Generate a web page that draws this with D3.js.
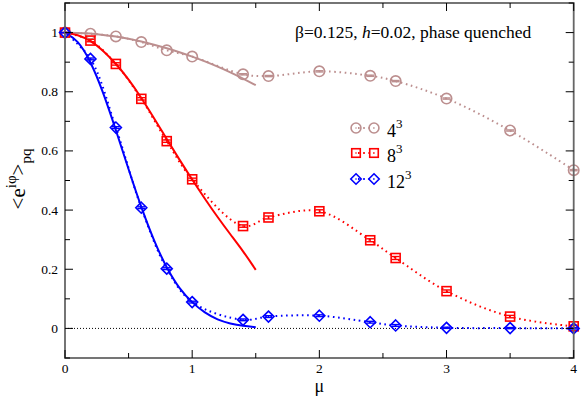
<!DOCTYPE html>
<html><head><meta charset="utf-8">
<script src="https://cdn.jsdelivr.net/npm/d3@7"></script>
<style>body{margin:0;background:#fff}svg{display:block}</style>
</head><body><svg id="c" width="581" height="397"></svg>
<script>
const mu = [0, 0.2, 0.4, 0.6, 0.8, 1.0, 1.4, 1.6, 2.0, 2.4, 2.6, 3.0, 3.5, 4.0];
const v4  = [1.0, 0.996, 0.987, 0.968, 0.940, 0.919, 0.859, 0.853, 0.869, 0.854, 0.836, 0.777, 0.669, 0.535];
const v8  = [1.0, 0.973, 0.894, 0.776, 0.633, 0.504, 0.346, 0.375, 0.396, 0.298, 0.238, 0.126, 0.040, 0.007];
const v12 = [1.0, 0.911, 0.679, 0.408, 0.202, 0.089, 0.029, 0.040, 0.043, 0.021, 0.010, 0.002, 0.001, 0.0];
const e4  = [0, 0, 0, 0, 0, 0, 0.002, 0.002, 0.002, 0.002, 0.002, 0.002, 0.002, 0.002];
const e8  = [0, 0.004, 0.004, 0.004, 0.004, 0.004, 0.004, 0.005, 0.005, 0.005, 0.005, 0.004, 0.004, 0.004];
const e12 = [0, 0.003, 0.003, 0.003, 0.003, 0.003, 0.003, 0.003, 0.003, 0.003, 0.003, 0.002, 0.002, 0.002];
const fitMu = [0, 0.1, 0.2, 0.3, 0.4, 0.5, 0.6, 0.7, 0.8, 0.9, 1.0, 1.1, 1.2, 1.3, 1.4, 1.5];
const fit4  = [1.0, 0.999, 0.997, 0.992, 0.987, 0.979, 0.970, 0.959, 0.947, 0.934, 0.919, 0.903, 0.885, 0.866, 0.845, 0.822];
const fit8  = [1.0, 0.993, 0.973, 0.940, 0.895, 0.843, 0.780, 0.711, 0.640, 0.570, 0.503, 0.438, 0.376, 0.318, 0.262, 0.198];
const fit12 = [1.0, 0.975, 0.905, 0.799, 0.671, 0.537, 0.408, 0.295, 0.203, 0.133, 0.087, 0.052, 0.029, 0.016, 0.008, 0.004];
const seriesNames = ["4", "8", "12"];
const colors = ["#bc8f8f", "#ff0000", "#0000ff"];
const xTicks = [0, 1, 2, 3, 4];
const yTicks = [0, 0.2, 0.4, 0.6, 0.8, 1];

const FONT = "Liberation Serif";
const svg = d3.select("#c");
const L = 65, R = 573.7, T = 3, B = 358;
const x = d3.scaleLinear().domain([0, 4]).range([L, R]);
const y = d3.scaleLinear().domain([-0.1, 1.1]).range([B, T]);
const txt = (sel) => sel.append("text").style("font-family", FONT).attr("fill", "#000");

// zero line
svg.append("line").attr("x1", x(0)).attr("x2", x(4)).attr("y1", y(0)).attr("y2", y(0))
  .attr("stroke", "#000").attr("stroke-width", 1).attr("stroke-dasharray", "1 2");

const all = [
  {v: v4, e: e4, fit: fit4, c: colors[0], shape: "circle"},
  {v: v8, e: e8, fit: fit8, c: colors[1], shape: "square"},
  {v: v12, e: e12, fit: fit12, c: colors[2], shape: "diamond"}
];

const dotted = d3.line().x(d => x(d[0])).y(d => y(d[1])).curve(d3.curveCatmullRom.alpha(0.5));
const solid = d3.line().x(d => x(d[0])).y(d => y(d[1])).curve(d3.curveBasis);

all.forEach(s => {
  svg.append("path").attr("d", dotted(mu.map((m, i) => [m, s.v[i]])))
    .attr("fill", "none").attr("stroke", s.c).attr("stroke-width", 2).attr("stroke-dasharray", "1.6 3.6").attr("stroke-linecap", "butt");
  svg.append("path").attr("d", solid(fitMu.map((m, i) => [m, s.fit[i]])))
    .attr("fill", "none").attr("stroke", s.c).attr("stroke-width", 2);
});

function marker(g, shape, cx, cy, c, sz) {
  if (shape === "circle") g.append("circle").attr("cx", cx).attr("cy", cy).attr("r", sz * 0.52).attr("fill", "none").attr("stroke", c).attr("stroke-width", 1.6);
  else if (shape === "square") g.append("rect").attr("x", cx - sz * 0.45).attr("y", cy - sz * 0.45).attr("width", sz * 0.9).attr("height", sz * 0.9).attr("fill", "none").attr("stroke", c).attr("stroke-width", 1.6);
  else g.append("path").attr("d", `M${cx},${cy - sz * 0.55}L${cx + sz * 0.55},${cy}L${cx},${cy + sz * 0.55}L${cx - sz * 0.55},${cy}Z`).attr("fill", "none").attr("stroke", c).attr("stroke-width", 1.6);
}

all.forEach(s => {
  const g = svg.append("g");
  mu.forEach((m, i) => {
    const cx = x(m), cy = y(s.v[i]);
    marker(g, s.shape, cx, cy, s.c, 10);
    if (s.e[i] > 0 || i === 0) {
      const yt = y(s.v[i] + s.e[i]), yb = y(s.v[i] - s.e[i]);
      const hw = 4;
      g.append("line").attr("x1", cx).attr("x2", cx).attr("y1", yt).attr("y2", yb).attr("stroke", s.c).attr("stroke-width", 1.2);
      [yt, yb].forEach(yy => g.append("line").attr("x1", cx - hw).attr("x2", cx + hw).attr("y1", yy).attr("y2", yy).attr("stroke", s.c).attr("stroke-width", 1.4));
    }
  });
});

// frame & ticks
const axc = "#666";
svg.append("rect").attr("x", L).attr("y", T).attr("width", R - L).attr("height", B - T)
  .attr("fill", "none").attr("stroke", axc).attr("stroke-width", 1.8);
const minorX = d3.range(0.5, 4, 1);
const minorY = d3.range(-0.1, 1.11, 0.2);
const tk = svg.append("g").attr("stroke", "#000").attr("stroke-width", 1);
xTicks.forEach(t => { tk.append("line").attr("x1", x(t)).attr("x2", x(t)).attr("y1", B).attr("y2", B - 8);
  tk.append("line").attr("x1", x(t)).attr("x2", x(t)).attr("y1", T).attr("y2", T + 8); });
minorX.forEach(t => { tk.append("line").attr("x1", x(t)).attr("x2", x(t)).attr("y1", B).attr("y2", B - 5);
  tk.append("line").attr("x1", x(t)).attr("x2", x(t)).attr("y1", T).attr("y2", T + 5); });
yTicks.forEach(t => { tk.append("line").attr("x1", L).attr("x2", L + 8).attr("y1", y(t)).attr("y2", y(t));
  tk.append("line").attr("x1", R).attr("x2", R - 8).attr("y1", y(t)).attr("y2", y(t)); });
minorY.forEach(t => { tk.append("line").attr("x1", L).attr("x2", L + 5).attr("y1", y(t)).attr("y2", y(t));
  tk.append("line").attr("x1", R).attr("x2", R - 5).attr("y1", y(t)).attr("y2", y(t)); });

xTicks.forEach(t => txt(svg).attr("x", x(t)).attr("y", 373).attr("text-anchor", "middle").attr("font-size", 13.5).text(d3.format("")(t)));
yTicks.forEach(t => txt(svg).attr("x", L - 7).attr("y", y(t) + 4.5).attr("text-anchor", "end").attr("font-size", 13.5).text(d3.format("")(t)));

// axis labels
txt(svg).attr("x", x(2)).attr("y", 392).attr("text-anchor", "middle").attr("font-size", 18).text("μ");
const yl = txt(svg).attr("transform", "translate(25,179) rotate(-90)").attr("text-anchor", "middle").attr("font-size", 21);
yl.append("tspan").text("<e");
yl.append("tspan").attr("dy", -9).attr("font-size", 15).text("iφ");
yl.append("tspan").attr("dy", 9).text(">");
yl.append("tspan").attr("dy", 6).attr("font-size", 15).text("pq");

// title
const tt = txt(svg).attr("x", 295).attr("y", 38).attr("font-size", 17.5);
tt.append("tspan").text("β=0.125, ");
tt.append("tspan").attr("font-style", "italic").text("h");
tt.append("tspan").text("=0.02, phase quenched");

// legend
const ly = [128, 153, 179];
all.forEach((s, i) => {
  const g = svg.append("g");
  g.append("line").attr("x1", 356).attr("x2", 374).attr("y1", ly[i]).attr("y2", ly[i]).attr("stroke", s.c).attr("stroke-width", 2).attr("stroke-dasharray", "1.6 3.6").attr("stroke-dashoffset", -2);
  [356, 374].forEach(cx => { marker(g, s.shape, cx, ly[i], s.c, 9.5);
    g.append("circle").attr("cx", cx).attr("cy", ly[i]).attr("r", 0.8).attr("fill", s.c); });
  const t = txt(svg).attr("x", 387).attr("y", ly[i] + 9).attr("font-size", 18);
  t.append("tspan").text(seriesNames[i]);
  t.append("tspan").attr("dy", -9).attr("font-size", 13).text("3");
});
</script></body></html>
